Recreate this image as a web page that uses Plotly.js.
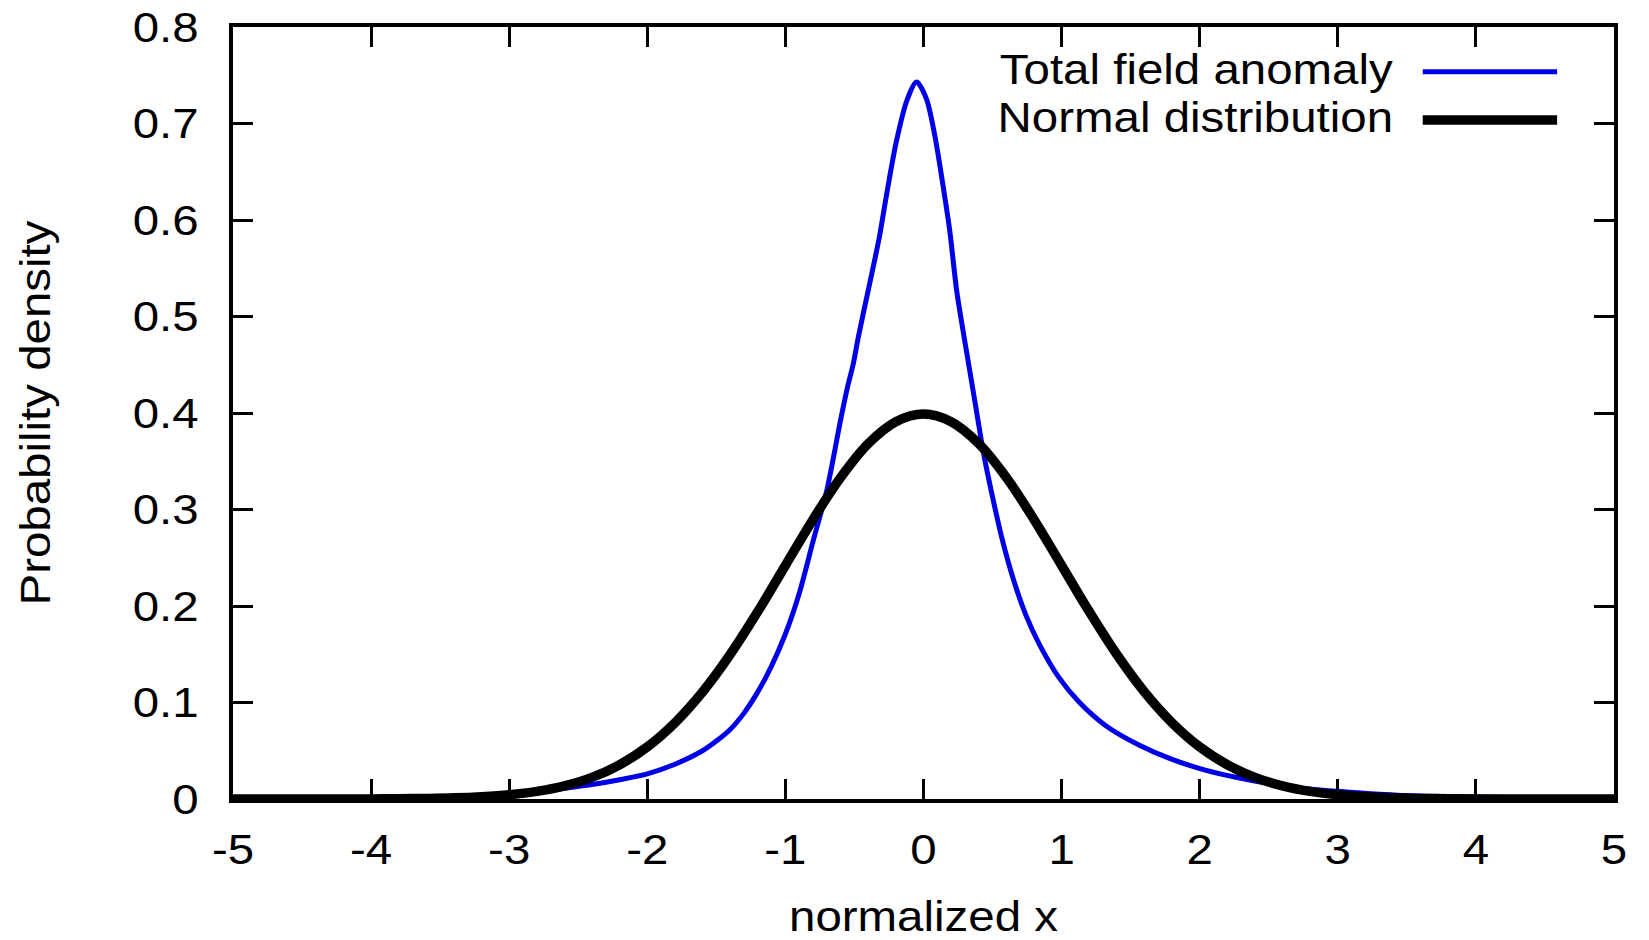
<!DOCTYPE html>
<html>
<head>
<meta charset="utf-8">
<script src="https://cdn.plot.ly/plotly-3.0.1.min.js"></script>
<style>
  html, body { margin: 0; padding: 0; background: #fff; }
  #chart { width: 1649px; height: 940px; }
</style>
</head>
<body>
<div id="chart"></div>
<script>
// Total field anomaly (blue)
const anomalyX = [-5.0, -4.5, -4.0, -3.5, -3.0, -2.8, -2.6, -2.4, -2.2, -2.0, -1.8, -1.6, -1.5, -1.4, -1.3, -1.2, -1.1, -1.0, -0.9, -0.8, -0.7, -0.6, -0.55, -0.51, -0.47, -0.39, -0.32, -0.27, -0.20, -0.12, -0.05, 0.02, 0.08, 0.14, 0.19, 0.24, 0.29, 0.35, 0.41, 0.43, 0.50, 0.57, 0.65, 0.74, 0.84, 0.98, 1.13, 1.32, 1.56, 1.80, 2.04, 2.28, 2.5, 2.75, 3.0, 3.3, 3.6, 4.0, 4.5, 5.0];
const anomalyY = [0.0003, 0.0006, 0.001, 0.002, 0.005, 0.007, 0.011, 0.015, 0.020, 0.026, 0.036, 0.050, 0.060, 0.072, 0.089, 0.111, 0.138, 0.171, 0.213, 0.267, 0.320, 0.393, 0.427, 0.450, 0.480, 0.534, 0.582, 0.624, 0.679, 0.724, 0.743, 0.726, 0.689, 0.637, 0.589, 0.527, 0.482, 0.431, 0.379, 0.362, 0.313, 0.269, 0.228, 0.191, 0.160, 0.126, 0.100, 0.076, 0.056, 0.041, 0.030, 0.022, 0.016, 0.011, 0.008, 0.005, 0.003, 0.002, 0.001, 0.0005];

// Normal distribution (black)
const normalX = [-5.0, -4.8, -4.6, -4.4, -4.2, -4.0, -3.8, -3.6, -3.4, -3.2, -3.0, -2.8, -2.6, -2.4, -2.2, -2.0, -1.8, -1.6, -1.4, -1.2, -1.0, -0.8, -0.6, -0.4, -0.2, 0.0, 0.2, 0.4, 0.6, 0.8, 1.0, 1.2, 1.4, 1.6, 1.8, 2.0, 2.2, 2.4, 2.6, 2.8, 3.0, 3.2, 3.4, 3.6, 3.8, 4.0, 4.2, 4.4, 4.6, 4.8, 5.0];
const normalY = [0.0000, 0.0000, 0.0000, 0.0000, 0.0001, 0.0001, 0.0003, 0.0006, 0.0012, 0.0024, 0.0044, 0.0079, 0.0136, 0.0224, 0.0355, 0.0540, 0.0790, 0.1109, 0.1497, 0.1942, 0.2420, 0.2897, 0.3332, 0.3683, 0.3910, 0.3989, 0.3910, 0.3683, 0.3332, 0.2897, 0.2420, 0.1942, 0.1497, 0.1109, 0.0790, 0.0540, 0.0355, 0.0224, 0.0136, 0.0079, 0.0044, 0.0024, 0.0012, 0.0006, 0.0003, 0.0001, 0.0001, 0.0000, 0.0000, 0.0000, 0.0000];

const seriesNames = ['Total field anomaly', 'Normal distribution'];
const seriesColors = ['#0000e6', '#000000'];
const seriesWidths = [5, 9.5];

const xTickVals = [-5, -4, -3, -2, -1, 0, 1, 2, 3, 4, 5];
const xTickText = ['-5', '-4', '-3', '-2', '-1', '0', '1', '2', '3', '4', '5'];
const yTickVals = [0, 0.1, 0.2, 0.3, 0.4, 0.5, 0.6, 0.7, 0.8];
const yTickText = ['0', '0.1', '0.2', '0.3', '0.4', '0.5', '0.6', '0.7', '0.8'];

const FONT = 'Liberation Sans, Arial, Helvetica, sans-serif';
const FS = 42;
const TEXT_STRETCH = 1.13; // the reference lettering is slightly wide

const traces = [
  { x: anomalyX, y: anomalyY, type: 'scatter', mode: 'lines', name: seriesNames[0],
    line: { color: seriesColors[0], width: seriesWidths[0], shape: 'spline', smoothing: 0.8 }, cliponaxis: false },
  { x: normalX, y: normalY, type: 'scatter', mode: 'lines', name: seriesNames[1],
    line: { color: seriesColors[1], width: seriesWidths[1], shape: 'spline', smoothing: 1 }, cliponaxis: false }
];

// legend drawn as text on the left, sample line on the right (as in the reference)
const legendRows = [0.9421, 0.8795];
const annotations = seriesNames.map((n, i) => ({
  text: n, xref: 'paper', yref: 'paper', x: 0.8411, y: legendRows[i] + 0.003,
  xanchor: 'right', yanchor: 'middle', showarrow: false,
  font: { family: FONT, size: FS, color: '#000' }
}));
const shapes = seriesNames.map((n, i) => ({
  type: 'line', xref: 'paper', yref: 'paper', x0: 0.8615, x1: 0.9588, y0: legendRows[i], y1: legendRows[i],
  line: { color: seriesColors[i], width: seriesWidths[i] }
}));

const axisCommon = {
  showgrid: false, zeroline: false, showline: true, linecolor: '#000', linewidth: 4,
  mirror: 'ticks', ticks: 'inside', ticklen: 20, tickwidth: 3, tickcolor: '#000',
  tickfont: { family: FONT, size: FS, color: '#000' }
};

const layout = {
  width: 1649, height: 940,
  margin: { l: 233, r: 35, t: 27, b: 141, pad: 0 },
  paper_bgcolor: '#fff', plot_bgcolor: '#fff',
  showlegend: false,
  font: { family: FONT, size: FS, color: '#000' },
  xaxis: Object.assign({}, axisCommon, {
    range: [-5, 5], tickmode: 'array', tickvals: xTickVals, ticktext: xTickText,
    ticklabelstandoff: 11,
    title: { text: 'normalized x', font: { family: FONT, size: FS, color: '#000' }, standoff: 35 }
  }),
  yaxis: Object.assign({}, axisCommon, {
    range: [0, 0.8], tickmode: 'array', tickvals: yTickVals, ticktext: yTickText,
    ticklabelstandoff: 22,
    title: { text: 'Probability density', font: { family: FONT, size: FS, color: '#000' }, standoff: 78 }
  }),
  annotations: annotations,
  shapes: shapes
};

Plotly.newPlot('chart', traces, layout, { displayModeBar: false, staticPlot: true }).then(function (gd) {
  gd.querySelectorAll('svg text').forEach(function (t) {
    var bb = t.getBBox();
    if (!bb.width) return;
    var anchor = t.getAttribute('text-anchor') || t.style.textAnchor || 'start';
    var px;
    if (t.closest('.annotation')) px = bb.x + bb.width;
    else if (anchor === 'middle') px = bb.x + bb.width / 2;
    else if (anchor === 'end') px = bb.x + bb.width;
    else px = bb.x;
    var py = bb.y + bb.height / 2;
    var tr = t.getAttribute('transform') || '';
    t.setAttribute('transform', tr + ' translate(' + px + ',' + py + ') scale(' + TEXT_STRETCH + ',1) translate(' + (-px) + ',' + (-py) + ')');
  });
});
</script>
</body>
</html>
